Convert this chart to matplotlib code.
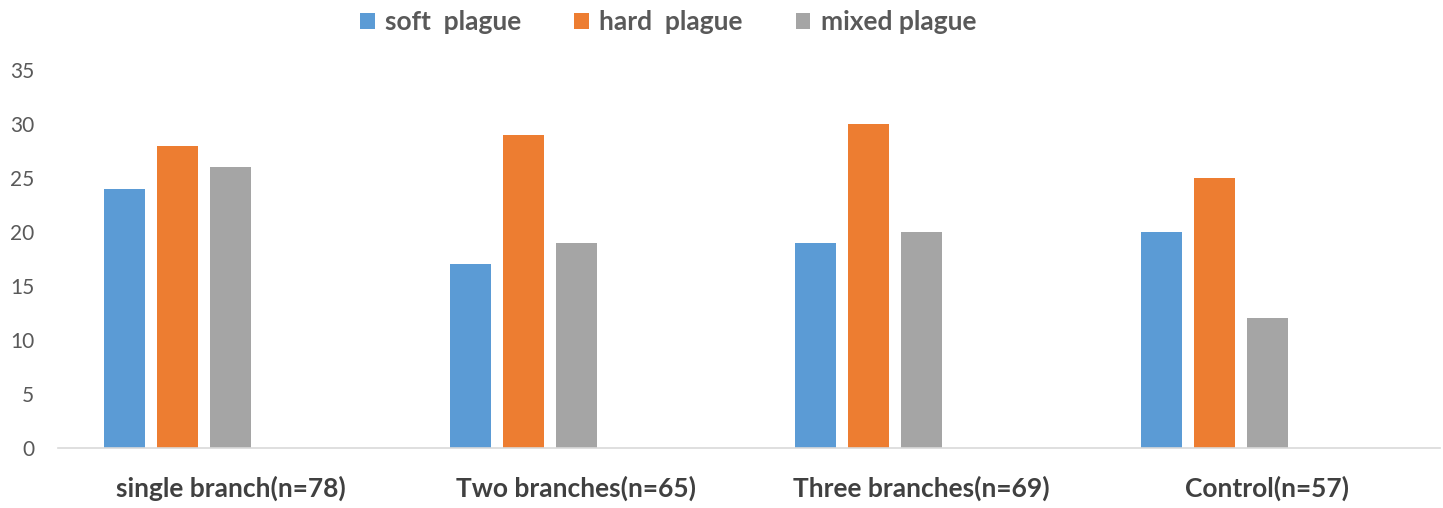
import matplotlib.pyplot as plt
import numpy as np

plt.rcParams['font.family'] = ['Lato', 'DejaVu Sans']

groups = ["single branch(n=78)", "Two branches(n=65)", "Three branches(n=69)", "Control(n=57)"]
series = ["soft  plague", "hard  plague", "mixed plague"]
soft = [24, 17, 19, 20]
hard = [28, 29, 30, 25]
mixed = [26, 19, 20, 12]
colors = ["#5B9BD5", "#ED7D31", "#A5A5A5"]

fig = plt.figure(figsize=(14.43, 5.08), dpi=100)
ax = fig.add_axes([0.040, 0.118, 0.958, 0.744])

x = np.arange(len(groups))
step = 0.1534
width = 0.119
for i, (vals, name) in enumerate(zip([soft, hard, mixed], series)):
    ax.bar(x + (i - 2) * step, vals, width=width, color=colors[i], label=name)

ax.set_xlim(-0.5, 3.5)
ax.set_ylim(0, 35)
ax.set_yticks(range(0, 36, 5))
ax.set_xticks(x)
ax.set_xticklabels(groups, fontsize=19, fontweight='bold', color='#404040')
ax.tick_params(axis='y', labelsize=15, labelcolor='#595959', length=0, pad=17)
ax.tick_params(axis='x', length=0, pad=20)
for s in ['top', 'right', 'left']:
    ax.spines[s].set_visible(False)
ax.spines['bottom'].set_color('#D9D9D9')
ax.spines['bottom'].set_linewidth(1.2)

fig.legend(loc='upper center', bbox_to_anchor=(0.463, 1.027), ncol=3, frameon=False,
           prop={'size': 19, 'weight': 'bold'}, handlelength=0.55, handleheight=0.55,
           handletextpad=0.4, columnspacing=2.0, labelcolor='#595959')

fig.savefig("out.png", dpi=100)
